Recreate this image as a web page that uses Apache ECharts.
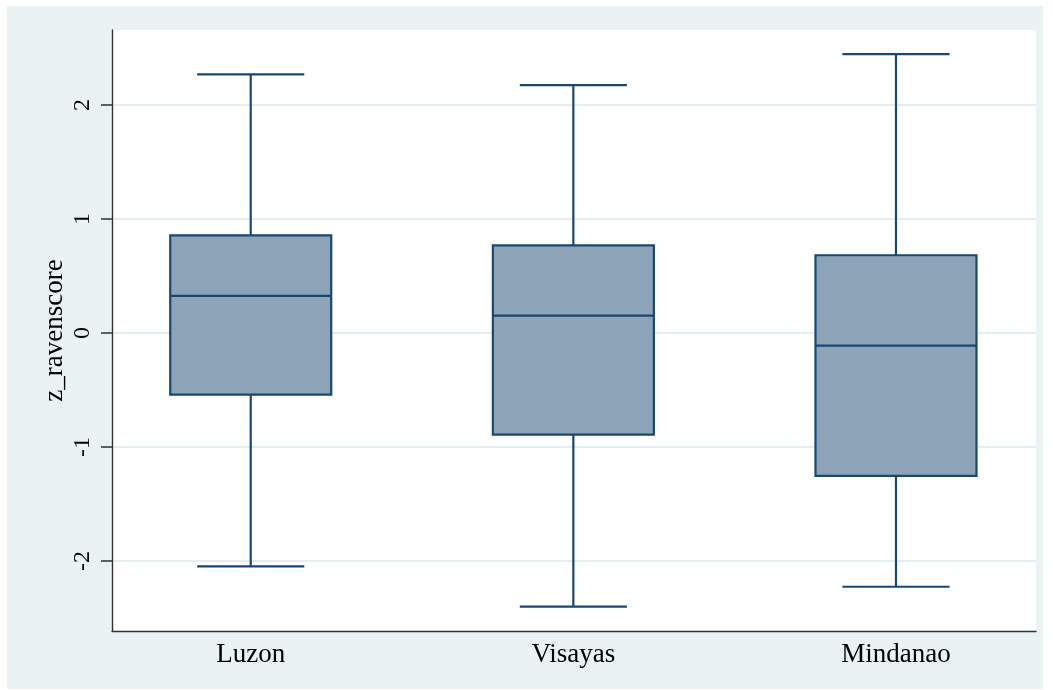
<!DOCTYPE html>
<html>
<head>
<meta charset="utf-8">
<script src="https://cdn.jsdelivr.net/npm/echarts@6/dist/echarts.min.js"></script>
<style>
html,body{margin:0;padding:0;background:#fff;}
#chart{width:1053px;height:690px;}
</style>
</head>
<body>
<div id="chart"></div>
<script>
var categories = ['Luzon', 'Visayas', 'Mindanao'];
var lowerWhisker = [-2.047, -2.400, -2.226];
var q1 = [-0.541, -0.892, -1.254];
var median = [0.325, 0.152, -0.111];
var q3 = [0.857, 0.769, 0.682];
var upperWhisker = [2.269, 2.175, 2.447];
var yTicks = [-2, -1, 0, 1, 2];
var xPositions = [0, 1, 2];
var yMin = -2.614, yMax = 2.658;
var xMin = -0.430, xMax = 2.434;

var boxData = categories.map(function (c, i) {
  return [xPositions[i], lowerWhisker[i], q1[i], median[i], q3[i], upperWhisker[i]];
});

var chart = echarts.init(document.getElementById('chart'));
var NAVY = '#1a476f';
var FONT = '"Liberation Serif", "Times New Roman", serif';

chart.setOption({
  backgroundColor: '#ffffff',
  animation: false,
  graphic: [{
    type: 'rect', z: -10, silent: true,
    shape: { x: 7, y: 6, width: 1036, height: 683 },
    style: { fill: '#eaf2f3' }
  }],
  grid: { left: 112, top: 30, width: 924, height: 601, show: true, backgroundColor: '#ffffff', borderWidth: 0 },
  xAxis: {
    type: 'value', min: xMin, max: xMax,
    axisLine: { show: true, onZero: false, lineStyle: { color: '#333333', width: 1.4 } },
    axisTick: { show: false },
    axisLabel: {
      show: true, customValues: xPositions, color: '#000', fontFamily: FONT, fontSize: 27, margin: 10,
      formatter: function (v) { return categories[Math.round(v)] || ''; }
    },
    splitLine: { show: false }
  },
  yAxis: {
    type: 'value', min: yMin, max: yMax,
    name: 'z_ravenscore', nameLocation: 'middle', nameRotate: 90, nameGap: 44, nameMoveOverlap: false,
    nameTextStyle: { color: '#000', fontFamily: FONT, fontSize: 27 },
    axisLine: { show: true, onZero: false, lineStyle: { color: '#333333', width: 1.4 } },
    axisTick: { show: true, length: 11, customValues: yTicks, lineStyle: { color: '#333333', width: 1.5 } },
    axisLabel: { show: true, rotate: 90, customValues: yTicks, color: '#000', fontFamily: FONT, fontSize: 24, margin: 17 },
    splitLine: { show: true, lineStyle: { color: '#e3eef0', width: 1.8 } }
  },
  series: [{
    type: 'custom',
    data: boxData,
    encode: { x: 0, y: [1, 2, 3, 4, 5] },
    renderItem: function (params, api) {
      var xi = api.value(0);
      var band = api.size([1, 0])[0];
      var boxW = band * 0.499;
      var capW = band * 0.332;
      var pLo = api.coord([xi, api.value(1)]);
      var pQ1 = api.coord([xi, api.value(2)]);
      var pMed = api.coord([xi, api.value(3)]);
      var pQ3 = api.coord([xi, api.value(4)]);
      var pHi = api.coord([xi, api.value(5)]);
      var cx = pMed[0];
      var ls = { stroke: NAVY, lineWidth: 2.2 };
      return {
        type: 'group',
        children: [
          { type: 'line', shape: { x1: cx, y1: pHi[1], x2: cx, y2: pQ3[1] }, style: ls },
          { type: 'line', shape: { x1: cx, y1: pQ1[1], x2: cx, y2: pLo[1] }, style: ls },
          { type: 'line', shape: { x1: cx - capW / 2, y1: pHi[1], x2: cx + capW / 2, y2: pHi[1] }, style: ls },
          { type: 'line', shape: { x1: cx - capW / 2, y1: pLo[1], x2: cx + capW / 2, y2: pLo[1] }, style: ls },
          { type: 'rect', shape: { x: cx - boxW / 2, y: pQ3[1], width: boxW, height: pQ1[1] - pQ3[1] },
            style: { fill: '#8da3b7', stroke: NAVY, lineWidth: 2.2 } },
          { type: 'line', shape: { x1: cx - boxW / 2, y1: pMed[1], x2: cx + boxW / 2, y2: pMed[1] }, style: ls }
        ]
      };
    }
  }]
});
</script>
</body>
</html>
